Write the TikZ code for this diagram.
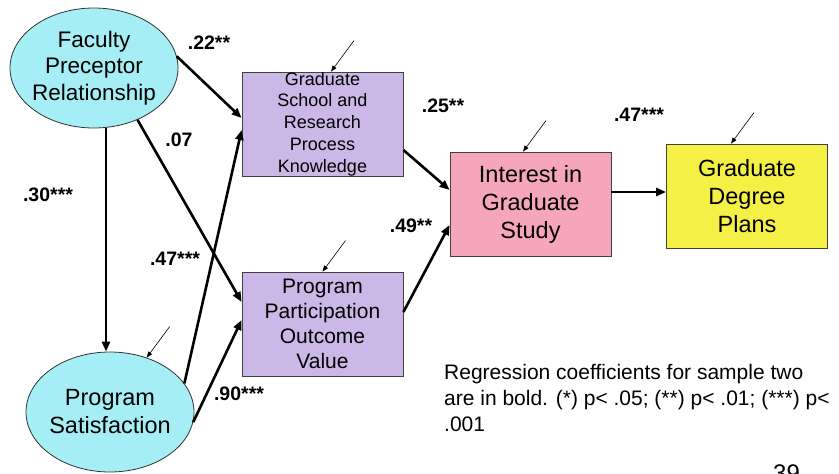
\documentclass[tikz,border=0pt]{standalone}
\usepackage{fontspec}
\setmainfont{Liberation Sans}
\usetikzlibrary{shapes, arrows, positioning, fit, calc, arrows.meta}
\definecolor{ltcyan}{RGB}{166,238,245}
\definecolor{lilac}{RGB}{204,184,230}
\definecolor{rose}{RGB}{245,166,186}
\definecolor{lemon}{RGB}{245,240,70}

\begin{document}
\begin{tikzpicture}[x=1pt, y=-1pt,
  latent/.style={ellipse, draw=black!80, line width=0.8pt, fill=ltcyan, inner xsep=-16pt, inner ysep=-12pt,
    minimum width=168pt, minimum height=120pt, align=center, font=\fontsize{22.5}{26.5}\selectfont},
  box/.style={rectangle, draw=black!75, line width=0.8pt, minimum width=161pt, minimum height=104pt,
    inner xsep=2pt, inner ysep=0pt, align=center, font=\fontsize{23.5}{28}\selectfont},
  path/.style={-{Triangle[length=10pt, width=8pt]}, line width=2.6pt},
  err/.style={-{Triangle[length=6pt, width=4.5pt]}, line width=0.6pt},
  coef/.style={inner sep=0pt, font=\fontsize{19.5}{22}\selectfont\bfseries}]
  \useasboundingbox (0,0) rectangle (839,474);
  \clip (0,0) rectangle (839,474);

  % variables
  \node[latent] (fpr) at (94,68) {Faculty\\Preceptor\\Relationship};
  \node[latent, font=\fontsize{23.5}{28}\selectfont] (sat) at (110,412) {Program\\Satisfaction};
  \node[box, fill=lilac, font=\fontsize{18}{21.7}\selectfont] (gsrpk) at (322.5,124)
    {Graduate\\School and\\Research\\Process\\Knowledge};
  \node[box, fill=lilac, font=\fontsize{21}{25}\selectfont] (ppov) at (322.5,324)
    {Program\\Participation\\Outcome\\Value};
  \node[box, fill=rose] (igs) at (530.5,204) {Interest in\\Graduate\\Study};
  \node[box, fill=lemon] (gdp) at (747,196) {Graduate\\Degree\\Plans};

  % paths
  \draw[path] (fpr.8) -- ([yshift=6pt]gsrpk.west);
  \draw[path] (fpr.-50) -- ([yshift=22pt]ppov.west);
  \draw[path] ([xshift=12pt]fpr.south) -- ([xshift=-4pt]sat.north);
  \draw[path] (sat.21) -- ([yshift=-6pt]gsrpk.west);
  \draw[path] (sat.-7) -- ([yshift=4pt]ppov.west);
  \draw[path] ([yshift=-26pt]gsrpk.east) -- ([yshift=14pt]igs.west);
  \draw[path] ([yshift=12pt]ppov.east) -- ([yshift=-21pt]igs.west);
  \draw[path] ([yshift=12pt]igs.east) -- ([yshift=12pt]igs.east -| gdp.west);

  % error terms
  \coordinate (e1) at ([xshift=8.5pt]gsrpk.north);
  \coordinate (e2) at (ppov.north);
  \coordinate (e3) at (sat.56);
  \coordinate (e4) at ([xshift=-7.5pt]igs.north);
  \coordinate (e5) at ([xshift=-16pt]gdp.north);
  \foreach \e in {e1,e2,e3,e4,e5}
    \draw[err] ($(\e)+(23,-31)$) -- (\e);

  % coefficients
  \node[coef] (c1) at (209,43) {.22**};
  \node[coef] (c2) at (179,140) {.07};
  \node[coef] (c3) at (48,195) {.30***};
  \node[coef] (c4) at (175,259) {.47***};
  \node[coef] (c5) at (239,394) {.90***};
  \node[coef] (c6) at (443,106) {.25**};
  \node[coef] (c7) at (411,226) {.49**};
  \node[coef] (c8) at (639,115) {.47***};

  \node[anchor=north west, inner sep=0pt, align=left, font=\fontsize{21}{26}\selectfont] (key) at (444,364)
    {Regression coefficients for sample two\\are in bold. (*) p< .05; (**) p< .01; (***) p<\\.001};
  \node[anchor=north west, inner sep=0pt, font=\fontsize{24}{28}\selectfont] (pg) at (773,465) {39};
\end{tikzpicture}
\end{document}
